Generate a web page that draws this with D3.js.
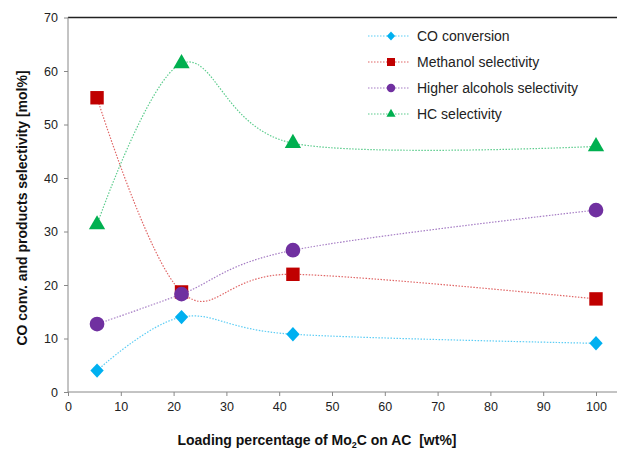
<!DOCTYPE html>
<html><head><meta charset="utf-8">
<script src="https://cdn.jsdelivr.net/npm/d3@7"></script>
<style>body{margin:0;background:#fff}svg{display:block;font-family:"Liberation Sans",Arial,sans-serif}</style>
</head><body>
<svg id="c" width="617" height="455"></svg>
<script>
const loading = [5.5, 21.5, 42.6, 100];
const coConversion = [4.0, 14.0, 10.8, 9.1];
const methanolSel = [55.0, 18.7, 22.0, 17.4];
const higherAlcSel = [12.7, 18.3, 26.5, 34.0];
const hcSel = [31.3, 61.4, 46.5, 45.9];
const xTicks = [0,10,20,30,40,50,60,70,80,90,100];
const yTicks = [0,10,20,30,40,50,60,70];
const seriesNames = ["CO conversion","Methanol selectivity","Higher alcohols selectivity","HC selectivity"];

const series = [
  {name:seriesNames[0], vals:coConversion, color:"#00B0F0", line:"#5ccdf5", shape:d3.symbolDiamond, size:60, sx:1.6, lsize:24},
  {name:seriesNames[1], vals:methanolSel, color:"#C00000", line:"#e06666", shape:d3.symbolSquare, size:180, sx:1, lsize:64},
  {name:seriesNames[2], vals:higherAlcSel, color:"#7030A0", line:"#a57cc4", shape:d3.symbolCircle, size:170, sx:1, lsize:56},
  {name:seriesNames[3], vals:hcSel, color:"#00B050", line:"#5ccc8d", shape:d3.symbolTriangle, size:115, sx:1, lsize:36}
];

const svg = d3.select("#c");
const x = d3.scaleLinear().domain([0,100]).range([68,596]);
const y = d3.scaleLinear().domain([0,70]).range([392,17.5]);

// top border
svg.append("line").attr("x1",68).attr("x2",617).attr("y1",17.5).attr("y2",17.5).attr("stroke","#222").attr("stroke-width",1.5);

const xAxis = svg.append("g").attr("transform","translate(0,392)")
  .call(d3.axisBottom(x).tickValues(xTicks).tickSize(4).tickPadding(6));
xAxis.select(".domain").remove();
xAxis.append("line").attr("x1",68).attr("x2",617).attr("stroke","#888");
xAxis.selectAll(".tick line").attr("stroke","#888");
xAxis.selectAll("text").attr("fill","#222").style("font-size","12.5px");

const yAxis = svg.append("g").attr("transform","translate(68,0)")
  .call(d3.axisLeft(y).tickValues(yTicks).tickSize(4).tickPadding(6));
yAxis.select(".domain").remove();
yAxis.append("line").attr("y1",17.5).attr("y2",392).attr("stroke","#888");
yAxis.selectAll(".tick line").attr("stroke","#888");
yAxis.selectAll("text").attr("fill","#222").style("font-size","12.5px");

// axis titles
svg.append("text").attr("transform","translate(27,208) rotate(-90)").attr("text-anchor","middle")
  .style("font-size","14px").style("font-weight","bold").attr("fill","#111")
  .text("CO conv. and products selectivity [mol%]");
const xt = svg.append("text").attr("x",317).attr("y",445).attr("text-anchor","middle")
  .style("font-size","14px").style("font-weight","bold").attr("fill","#111");
xt.append("tspan").text("Loading percentage of Mo");
xt.append("tspan").text("2").attr("dy",3).style("font-size","9px");
xt.append("tspan").text("C on AC\u00a0 [wt%]").attr("dy",-3);

const line = d3.line().x((d,i)=>x(loading[i])).y(d=>y(d)).curve(d3.curveCardinal.tension(0));

series.forEach(s=>{
  svg.append("path").attr("d",line(s.vals)).attr("fill","none")
    .attr("stroke",s.line).attr("stroke-width",1.2).attr("stroke-dasharray","1.5,1.5");
});
series.forEach(s=>{
  svg.selectAll(null).data(s.vals).enter().append("path")
    .attr("d",d3.symbol().type(s.shape).size(s.size))
    .attr("transform",(d,i)=>`translate(${x(loading[i])},${y(d)}) scale(${s.sx},1)`)
    .attr("fill",s.color);
});

// legend
const lg = svg.append("g");
series.forEach((s,i)=>{
  const yy = 36 + i*26;
  lg.append("line").attr("x1",368).attr("x2",410).attr("y1",yy).attr("y2",yy)
    .attr("stroke",s.line).attr("stroke-width",1.2).attr("stroke-dasharray","1.5,1.5");
  lg.append("path").attr("d",d3.symbol().type(s.shape).size(s.lsize))
    .attr("transform",`translate(391,${yy}) scale(${s.sx},1)`).attr("fill",s.color);
  lg.append("text").attr("x",417).attr("y",yy+5).style("font-size","14px").attr("fill","#222").text(s.name);
});
</script>
</body></html>
